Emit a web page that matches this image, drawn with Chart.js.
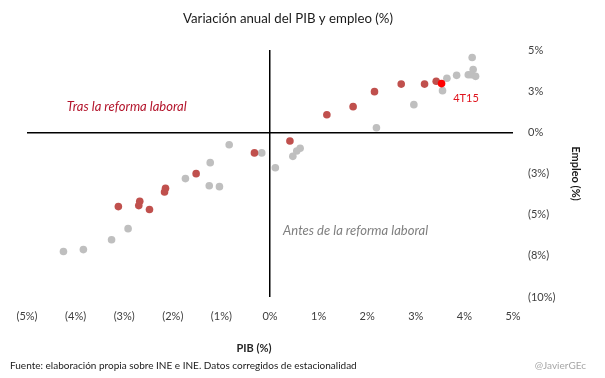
<!DOCTYPE html>
<html>
<head>
<meta charset="utf-8">
<script src="https://cdn.jsdelivr.net/npm/chart.js@4/dist/chart.umd.min.js"></script>
<style>
  html, body { margin: 0; padding: 0; background: #ffffff; }
  #wrap { width: 605px; height: 378px; position: relative; }
</style>
</head>
<body>
<div id="wrap"><canvas id="c" width="605" height="378"></canvas></div>
<script>
// ---- Data ----
const titleText = "Variación anual del PIB y empleo (%)";
const xAxisTitle = "PIB (%)";
const yAxisTitle = "Empleo (%)";
const footerText = "Fuente: elaboración propia sobre INE e INE. Datos corregidos de estacionalidad";
const creditText = "@JavierGEc";
const labelAfter = "Tras la reforma laboral";
const labelBefore = "Antes de la reforma laboral";
const labelLast = "4T15";

// Before the labour reform (grey)
const beforeGDP = [4.16, 4.18, 4.08, 4.14, 4.23, 3.84, 3.64, 3.55, 2.96, 2.19, 0.62, 0.55, 0.47, 0.11, -0.17, -0.84, -1.23, -1.74, -1.25, -1.04, -2.92, -3.26, -3.84, -4.25];
const beforeEmp = [4.54, 3.81, 3.50, 3.50, 3.40, 3.46, 3.28, 2.53, 1.68, 0.28, -0.97, -1.13, -1.46, -2.15, -1.25, -0.75, -1.84, -2.81, -3.24, -3.30, -5.85, -6.52, -7.12, -7.24];

// After the labour reform (red)
const afterGDP = [-1.52, -2.15, -2.17, -2.68, -2.70, -3.12, -2.48, -0.32, 0.41, 1.17, 1.71, 2.15, 2.70, 3.18, 3.42];
const afterEmp = [-2.51, -3.40, -3.62, -4.19, -4.45, -4.51, -4.69, -1.25, -0.53, 1.07, 1.56, 2.47, 2.93, 2.93, 3.10];

// Latest quarter (4T15)
const lastGDP = [3.53];
const lastEmp = [2.96];

// Axis ticks
const xMin = -5, xMax = 5, xStep = 1;
const yMin = -10, yMax = 5, yStep = 2.5;

function toPoints(xs, ys) { return xs.map((x, i) => ({ x: x, y: ys[i] })); }
function fmtPct(v) {
  const r = Math.round(Math.abs(v));
  if (Math.abs(v) < 1e-9) return "0%";
  return v < 0 ? "(" + r + "%)" : r + "%";
}

const FONT = "Lato, 'Open Sans', sans-serif";

const decor = {
  id: 'decor',
  afterDraw(chart) {
    const ctx = chart.ctx;
    const xs = chart.scales.x, ys = chart.scales.y;
    ctx.save();
    ctx.textBaseline = 'middle';
    // Title
    ctx.fillStyle = '#1a1a1a';
    ctx.font = "14px " + FONT;
    ctx.textAlign = 'center';
    ctx.fillText(titleText, 288, 18, 210);
    // Annotations
    ctx.textAlign = 'left';
    ctx.font = "italic 13px " + FONT;
    ctx.fillStyle = '#b3142b';
    ctx.fillText(labelAfter, xs.getPixelForValue(-4.18), ys.getPixelForValue(1.58), 140);
    ctx.fillStyle = '#7f7f7f';
    ctx.fillText(labelBefore, xs.getPixelForValue(0.27), ys.getPixelForValue(-6.0), 166);
    ctx.font = "11px " + FONT;
    ctx.fillStyle = '#e0141e';
    ctx.fillText(labelLast, xs.getPixelForValue(3.77), ys.getPixelForValue(2.06));
    // X axis title
    ctx.textAlign = 'center';
    ctx.font = "bold 11px " + FONT;
    ctx.fillStyle = '#262626';
    ctx.fillText(xAxisTitle, 254, 348);
    // Footer
    ctx.textAlign = 'left';
    ctx.font = "10px " + FONT;
    ctx.fillStyle = '#1a1a1a';
    ctx.fillText(footerText, 10, 366, 354);
    ctx.textAlign = 'right';
    ctx.fillStyle = '#a6a6a6';
    ctx.fillText(creditText, 586, 366);
    ctx.restore();
  }
};

const zeroGrid = {
  drawTicks: false,
  lineWidth: (c) => (c.tick && c.tick.value === 0 ? 1.5 : 0),
  color: (c) => (c.tick && c.tick.value === 0 ? '#000000' : 'rgba(0,0,0,0)')
};

new Chart(document.getElementById('c'), {
  type: 'scatter',
  data: {
    datasets: [
      { label: labelLast, data: toPoints(lastGDP, lastEmp), backgroundColor: '#ff0000', borderWidth: 0, pointRadius: 3.8, order: 0 },
      { label: labelAfter, data: toPoints(afterGDP, afterEmp), backgroundColor: '#c0504d', borderWidth: 0, pointRadius: 3.8, order: 1 },
      { label: labelBefore, data: toPoints(beforeGDP, beforeEmp), backgroundColor: '#bfbfbf', borderWidth: 0, pointRadius: 3.8, order: 2 }
    ]
  },
  options: {
    responsive: false,
    animation: false,
    devicePixelRatio: 1,
    layout: { padding: { left: 27, right: 0, top: 50, bottom: 18 } },
    plugins: { legend: { display: false }, title: { display: false }, tooltip: { enabled: false } },
    scales: {
      x: {
        type: 'linear', position: 'bottom',
        min: xMin, max: xMax,
        border: { display: false },
        grid: zeroGrid,
        ticks: { stepSize: xStep, padding: 13, color: '#404040', font: { family: FONT, size: 11 }, callback: (v) => fmtPct(v), maxRotation: 0 },
        afterFit: (s) => { s.height = 63; }
      },
      y: {
        type: 'linear', position: 'right',
        min: yMin, max: yMax,
        border: { display: false },
        grid: zeroGrid,
        ticks: { stepSize: yStep, padding: 15, color: '#404040', font: { family: FONT, size: 11 }, callback: (v) => fmtPct(v) },
        title: { display: true, text: yAxisTitle, color: '#1a1a1a', font: { family: FONT, size: 11, weight: 'bold' }, padding: { top: 23, bottom: 0 } },
        afterFit: (s) => { s.width = 92; }
      }
    }
  },
  plugins: [decor]
});
</script>
</body>
</html>
